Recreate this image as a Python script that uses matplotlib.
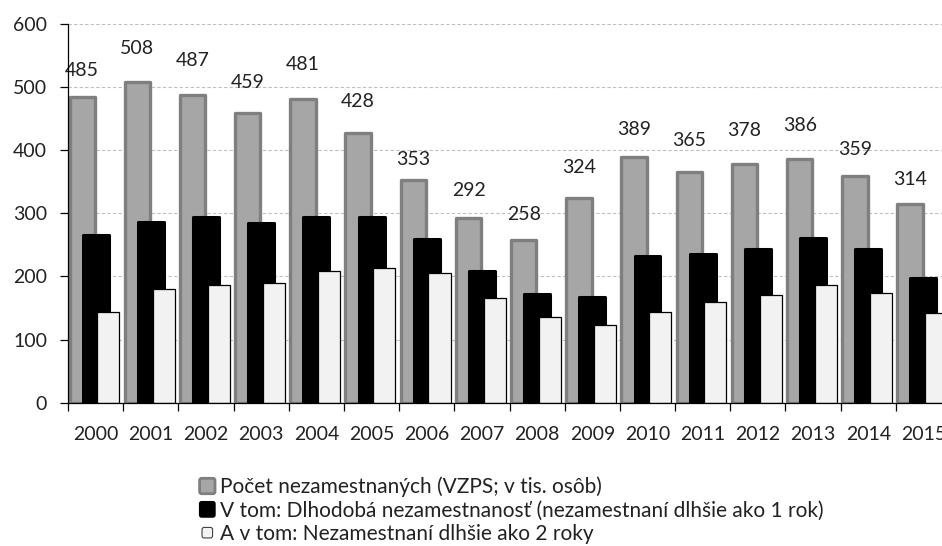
import numpy as np
import matplotlib
matplotlib.use("Agg")
import matplotlib.pyplot as plt
from matplotlib.patches import Patch, FancyBboxPatch
from matplotlib.legend_handler import HandlerPatch

plt.rcParams['font.family'] = ['Lato', 'DejaVu Sans']

years = ['2000', '2001', '2002', '2003', '2004', '2005', '2006', '2007',
         '2008', '2009', '2010', '2011', '2012', '2013', '2014', '2015']
unemployed = [485, 508, 487, 459, 481, 428, 353, 292,
              258, 324, 389, 365, 378, 386, 359, 314]
long_term_1y = [265, 286, 294, 284, 294, 294, 260, 209,
                172, 168, 232, 236, 243, 261, 243, 198]
long_term_2y = [144, 180, 187, 190, 208, 214, 205, 166,
                136, 123, 144, 159, 170, 187, 174, 142]

legend_labels = ['Počet nezamestnaných (VZPS; v tis. osôb)',
                 'V tom: Dlhodobá nezamestnanosť (nezamestnaní dlhšie ako 1 rok)',
                 'A v tom: Nezamestnaní dlhšie ako 2 roky']

# how far each value label sits above its bar (points), as placed in the original
label_lift = [19, 24, 25, 22, 25, 22, 15, 20, 18, 22, 20, 23, 24, 24, 19, 18]

txt = '#222222'
fig = plt.figure(figsize=(9.42, 5.46), dpi=100)
ax = fig.add_axes([0.0722, 0.2625, 0.9374, 0.6936])

x = np.arange(len(years))
ax.bar(x - 0.243, unemployed, width=0.46, color='#a6a6a6', edgecolor='#7f7f7f',
       linewidth=2.4, joinstyle='round', zorder=2)
ax.bar(x, long_term_1y, width=0.47, color='black', edgecolor='black',
       linewidth=2.2, joinstyle='round', zorder=3)
ax.bar(x + 0.231, long_term_2y, width=0.40, color='#f2f2f2', edgecolor='black',
       linewidth=0.9, zorder=4)

for xi, v, dy in zip(x, unemployed, label_lift):
    ax.annotate(str(v), (xi - 0.243, v), xytext=(0, dy), textcoords='offset points',
                ha='center', va='center', fontsize=14, color=txt)

ax.set_xlim(-0.5, len(years) - 0.5)
ax.set_ylim(0, 600)
ax.set_yticks(range(0, 601, 100))
ax.set_xticks(x)
ax.set_xticklabels(years)
ax.set_xticks(np.arange(-0.5, len(years), 1), minor=True)
ax.tick_params(axis='x', which='major', length=0, pad=17, labelsize=14, labelcolor=txt)
ax.tick_params(axis='x', which='minor', length=6, width=0.9, color='black')
ax.tick_params(axis='y', length=6, width=0.9, pad=9, labelsize=14, labelcolor=txt)

ax.yaxis.grid(True, linestyle=(0, (3, 2)), color='#c0c0c0', linewidth=0.8, zorder=0)
ax.set_axisbelow(True)
for s in ['top', 'right']:
    ax.spines[s].set_visible(False)
for s in ['left', 'bottom']:
    ax.spines[s].set_linewidth(0.9)
    ax.spines[s].set_zorder(5)


def square(scale):
    def make(legend, orig_handle, xdescent, ydescent, width, height, fontsize):
        side = height * scale
        cx, cy = -xdescent + width / 2, -ydescent + height / 2
        return FancyBboxPatch((cx - side / 2, cy - side / 2), side, side,
                              boxstyle='round,pad=0,rounding_size=1.5')
    return HandlerPatch(patch_func=make)


handles = [Patch(facecolor='#a6a6a6', edgecolor='#7f7f7f', linewidth=2.0),
           Patch(facecolor='black', edgecolor='black', linewidth=1.0),
           Patch(facecolor='#f2f2f2', edgecolor='#404040', linewidth=0.8)]
fig.legend(handles, legend_labels, loc='upper left', bbox_to_anchor=(0.211, 0.127),
           frameon=False, fontsize=15, handlelength=0.82, handleheight=0.82,
           handletextpad=0.2, labelspacing=0.16, borderpad=0, borderaxespad=0,
           labelcolor=txt,
           handler_map={handles[0]: square(0.95), handles[1]: square(0.95),
                        handles[2]: square(0.65)})

fig.savefig('out.png', dpi=100)
